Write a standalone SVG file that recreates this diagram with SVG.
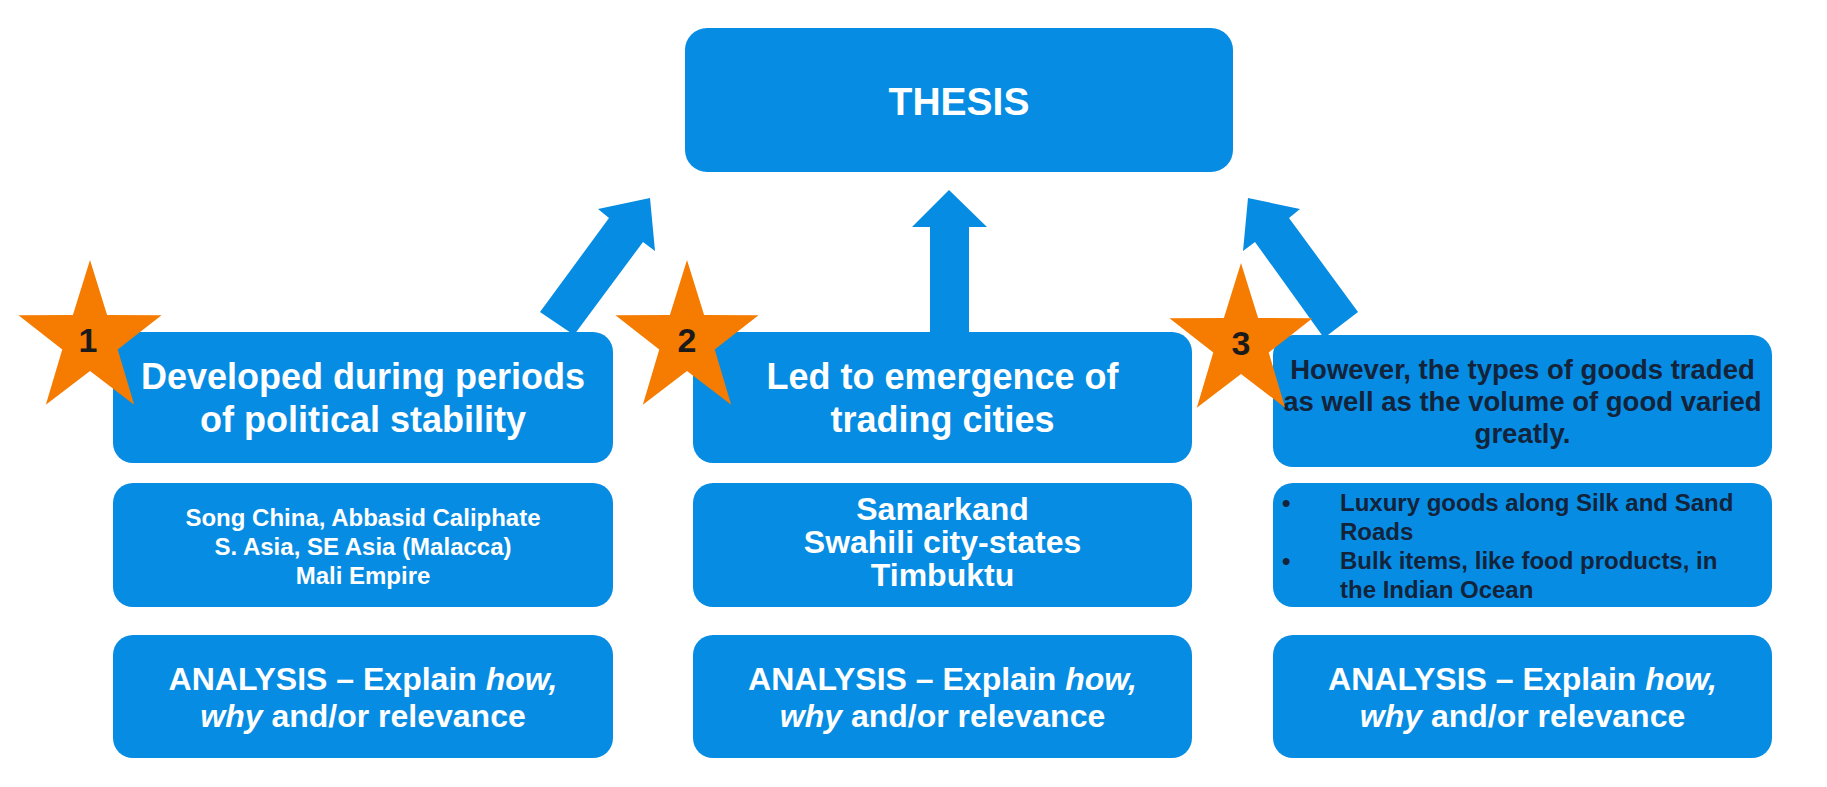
<svg xmlns="http://www.w3.org/2000/svg" xmlns:xlink="http://www.w3.org/1999/xlink" width="1827" height="787" viewBox="0 0 1827 787">
<style>
.box{fill:#078ce3;}
.arrow{fill:#078ce3;}
.star{fill:#f57c00;}
.t{font-family:"Liberation Sans",Arial,sans-serif;font-weight:bold;text-anchor:middle;}
.w{fill:#ffffff;}
.d{fill:#13233a;}
.num{font-family:"Liberation Sans",Arial,sans-serif;font-weight:bold;text-anchor:middle;fill:#1a1a1a;font-size:34px;}
.i{font-style:italic;}
</style>
<defs>
<polygon id="starshape" class="star" points="0,-80 18.2,-25.1 76.1,-24.7 29.5,9.6 47,64.7 0,31 -47,64.7 -29.5,9.6 -76.1,-24.7 -18.2,-25.1"/>
</defs>
<rect width="1827" height="787" fill="#ffffff"/>
<g id="connectors">
<polygon class="arrow" points="540,312 609,218 598,209 650,198 655,251 643,242 574,335"/>
<polygon class="arrow" points="930,340 930,227 912,227 949,190 987,227 969,227 969,340"/>
<polygon class="arrow" points="1358,312 1289,218 1300,209 1248,198 1243,251 1255,242 1324,338"/>
</g>
<g id="thesis">
<rect class="box" x="685" y="28" width="548" height="144" rx="22"/>
<text class="t w" x="959" y="115" font-size="39">THESIS</text>
</g>
<g id="point1">
<rect class="box" x="113" y="332" width="500" height="131" rx="20"/>
<text class="t w" x="363" y="389" font-size="36">Developed during periods</text>
<text class="t w" x="363" y="432" font-size="36">of political stability</text>
</g>
<g id="point2">
<rect class="box" x="693" y="332" width="499" height="131" rx="20"/>
<text class="t w" x="942.5" y="389" font-size="36">Led to emergence of</text>
<text class="t w" x="942.5" y="432" font-size="36">trading cities</text>
</g>
<g id="point3">
<rect class="box" x="1273" y="335" width="499" height="132" rx="20"/>
<text class="t d" x="1522.5" y="379" font-size="27.5">However, the types of goods traded</text>
<text class="t d" x="1522.5" y="411" font-size="27.5">as well as the volume of good varied</text>
<text class="t d" x="1522.5" y="443" font-size="27.5">greatly.</text>
</g>
<g id="evidence1">
<rect class="box" x="113" y="483" width="500" height="124" rx="20"/>
<text class="t w" x="363" y="526" font-size="24">Song China, Abbasid Caliphate</text>
<text class="t w" x="363" y="555" font-size="24">S. Asia, SE Asia (Malacca)</text>
<text class="t w" x="363" y="584" font-size="24">Mali Empire</text>
</g>
<g id="evidence2">
<rect class="box" x="693" y="483" width="499" height="124" rx="20"/>
<text class="t w" x="942.5" y="520" font-size="32">Samarkand</text>
<text class="t w" x="942.5" y="553" font-size="32">Swahili city-states</text>
<text class="t w" x="942.5" y="586" font-size="32">Timbuktu</text>
</g>
<g id="evidence3">
<rect class="box" x="1273" y="483" width="499" height="124" rx="20"/>
<g font-family="Liberation Sans, Arial, sans-serif" font-weight="bold" font-size="24" fill="#13233a">
<text x="1282" y="511">•</text>
<text x="1340" y="511">Luxury goods along Silk and Sand</text>
<text x="1340" y="540">Roads</text>
<text x="1282" y="569">•</text>
<text x="1340" y="569">Bulk items, like food products, in</text>
<text x="1340" y="598">the Indian Ocean</text>
</g>
</g>
<g id="analysis1">
<rect class="box" x="113" y="635" width="500" height="123" rx="20"/>
<text class="t w" x="363" y="690" font-size="32">ANALYSIS – Explain <tspan class="i">how,</tspan></text>
<text class="t w" x="363" y="727" font-size="32"><tspan class="i">why</tspan> and/or relevance</text>
</g>
<g id="analysis2">
<rect class="box" x="693" y="635" width="499" height="123" rx="20"/>
<text class="t w" x="942.5" y="690" font-size="32">ANALYSIS – Explain <tspan class="i">how,</tspan></text>
<text class="t w" x="942.5" y="727" font-size="32"><tspan class="i">why</tspan> and/or relevance</text>
</g>
<g id="analysis3">
<rect class="box" x="1273" y="635" width="499" height="123" rx="20"/>
<text class="t w" x="1522.5" y="690" font-size="32">ANALYSIS – Explain <tspan class="i">how,</tspan></text>
<text class="t w" x="1522.5" y="727" font-size="32"><tspan class="i">why</tspan> and/or relevance</text>
</g>
<g id="star1">
<use xlink:href="#starshape" href="#starshape" transform="translate(90,340) scale(0.94,1)"/>
<text class="num" x="88" y="352">1</text>
</g>
<g id="star2">
<use xlink:href="#starshape" href="#starshape" transform="translate(687,340) scale(0.94,1)"/>
<text class="num" x="687" y="352">2</text>
</g>
<g id="star3">
<use xlink:href="#starshape" href="#starshape" transform="translate(1241,343) scale(0.94,1)"/>
<text class="num" x="1241" y="355">3</text>
</g>
</svg>
